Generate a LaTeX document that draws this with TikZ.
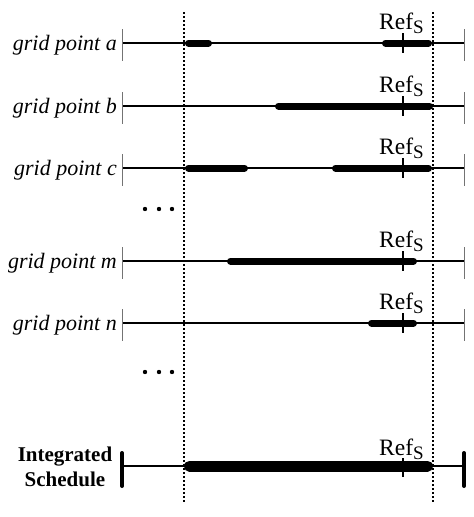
\documentclass[tikz,border=0pt]{standalone}
\usepackage{fontspec}
\setmainfont{Liberation Serif}
\tikzset{
  axisline/.style={line width=1.4pt},
  endtick/.style={line width=0.8pt, black!55},
  busy/.style={line width=7pt, line cap=round},
  busyall/.style={line width=11pt, line cap=round},
  reftick/.style={line width=2.2pt},
  bound/.style={line width=1.1pt, dash pattern=on 2pt off 2pt},
  rowlabel/.style={font=\fontsize{22}{26}\selectfont\itshape, anchor=base east, inner sep=0pt},
  reflabel/.style={font=\fontsize{23.5}{26}\selectfont, anchor=base west, inner sep=0pt},
  dotmark/.style={circle, fill=black, inner sep=0pt, minimum size=4.4pt},
}
\newcommand{\RefS}{Ref\raisebox{-4pt}{\fontsize{19}{19}\selectfont S}}
\begin{document}
\begin{tikzpicture}[x=1pt,y=-1pt]
\useasboundingbox (0,0) rectangle (474,517);
% boundary dotted lines
\coordinate (bt1) at (184,12); \coordinate (bb1) at (184,503);
\coordinate (bt2) at (433,12); \coordinate (bb2) at (433,503);
\draw[bound] (bt1) -- (bb1);
\draw[bound] (bt2) -- (bb2);
% rows
\foreach \n/\y/\lab in {a/43/a, b/106/b, c/168/c, m/261/m, n/323/n}{
  \coordinate (\n L) at (122,\y);
  \coordinate (\n R) at (464,\y);
  \coordinate (\n Ref) at (403,\y);
  \draw[axisline] (\n L) -- (\n R);
  \draw[endtick] (\n L) ++(0,-14) -- ++(0,32);
  \draw[endtick] (\n R) ++(0,-14) -- ++(0,32);
  \node[rowlabel] (lab\n) at (117,\y+7) {grid point \lab};
}
% busy intervals
\draw[busy] (188.5,43) -- (208.5,43);
\draw[busy] (385.5,43) -- (428.5,43);
\draw[busy] (278.5,106) -- (429.5,106);
\draw[busy] (188.5,168) -- (244.5,168);
\draw[busy] (335.5,168) -- (428.5,168);
\draw[busy] (230.5,261) -- (413.5,261);
\draw[busy] (371.5,323) -- (413.5,323);
% reference ticks and labels
\foreach \n/\y in {a/43, b/106, c/168, m/261, n/323}{
  \draw[reftick] (\n Ref) ++(0,-10) -- ++(0,20);
  \node[reflabel] (ref\n) at (379,\y-14) {\RefS};
}
% ellipses
\foreach \i/\x in {1/145,2/159,3/172}{
  \node[dotmark] (d1\i) at (\x,209) {};
  \node[dotmark] (d2\i) at (\x,372) {};
}
% integrated schedule
\coordinate (iL) at (122,466);
\coordinate (iR) at (464,466);
\coordinate (iRef) at (403,466);
\draw[line width=2pt] (iL) -- (iR);
\draw[line width=4pt, line cap=round] (iL) ++(0,-13) -- ++(0,33);
\draw[line width=4pt, line cap=round] (iR) ++(0,-13) -- ++(0,33);
\draw[busyall] (189.5,466) -- (427.5,466);
\draw[line width=1.8pt] (iRef) ++(0,-8) -- ++(0,19);
\node[reflabel] (refi) at (379,455) {\RefS};
\node[font=\fontsize{21}{25}\selectfont\bfseries, align=center, inner sep=0pt] (labi) at (65,467) {Integrated\\Schedule};
\end{tikzpicture}
\end{document}
